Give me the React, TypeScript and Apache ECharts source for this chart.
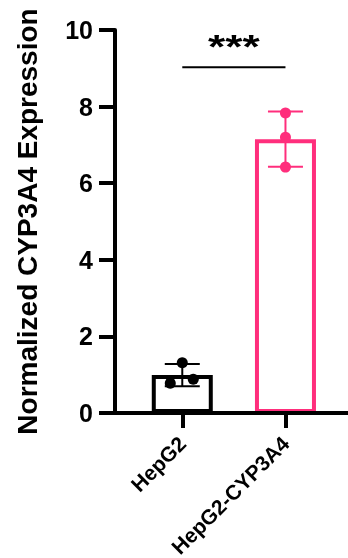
import React, { useEffect, useRef } from "react";
import * as echarts from "echarts";

// ---- data ----
const categories = ["HepG2", "HepG2-CYP3A4"];
const means = [0.99, 7.15];
const sds = [0.29, 0.72];
const hepg2Points = [1.31, 0.78, 0.88];
const cyp3a4Points = [7.83, 7.2, 6.42];
const sigLevel = 9.03;
const sigLabel = "***";
const yMin = 0;
const yMax = 10;
const yInterval = 2;

// ---- styles / layout ----
const FONT = '"Liberation Sans", Arial, sans-serif';
const colors = ["#000000", "#FF2E7C"];
const dotOffsetsPx = [
  [0, -12, 11],
  [0, 0, 0],
];

export default function App() {
  const ref = useRef<HTMLDivElement>(null);
  useEffect(() => {
    const chart = echarts.init(ref.current!, null, { renderer: "svg" });
    const pointSets = [hepg2Points, cyp3a4Points];
    const dotData: number[][] = [];
    pointSets.forEach((pts, ci) => pts.forEach((v, k) => dotData.push([ci, v, k])));
    const catIdx = categories.map((_, i) => i);

    const option: any = {
      animation: false,
      grid: { left: 115, right: 0, top: 30, bottom: 145, containLabel: false, outerBoundsMode: "none" },
      xAxis: {
        type: "value",
        min: -0.652,
        max: 1.606,
        z: 10,
        axisLine: { show: true, onZero: false, lineStyle: { color: "#000", width: 4 } },
        axisTick: { show: true, customValues: catIdx, length: 15, lineStyle: { color: "#000", width: 4 } },
        axisLabel: {
          customValues: catIdx,
          formatter: (v: number) => categories[Math.round(v)] ?? "",
          rotate: 45,
          margin: 27,
          fontSize: 21,
          fontWeight: "bold",
          fontFamily: FONT,
          color: "#000",
        },
        splitLine: { show: false },
      },
      yAxis: {
        type: "value",
        min: yMin,
        max: yMax,
        interval: yInterval,
        name: "Normalized CYP3A4 Expression",
        nameLocation: "middle",
        nameGap: 74,
        nameMoveOverlap: false,
        nameTextStyle: { fontSize: 28, fontWeight: "bold", fontFamily: FONT, color: "#000" },
        axisLine: { show: true, onZero: false, lineStyle: { color: "#000", width: 4 } },
        axisTick: { show: true, length: 16, lineStyle: { color: "#000", width: 4 } },
        axisLabel: { margin: 22, fontSize: 25, fontWeight: "bold", fontFamily: FONT, color: "#000" },
        splitLine: { show: false },
      },
      series: [
        {
          type: "bar",
          barWidth: 61,
          data: categories.map((_, i) => ({
            value: [i, means[i]],
            itemStyle: { color: "#fff", borderColor: colors[i], borderWidth: 4 },
          })),
          z: 2,
        },
        {
          type: "custom",
          z: 3,
          data: categories.map((_, i) => [i, means[i], sds[i]]),
          encode: { x: 0, y: 1 },
          renderItem: (_p: any, api: any) => {
            const ci = api.value(0);
            const m = api.value(1);
            const s = api.value(2);
            const top = api.coord([ci, m + s]);
            const bot = api.coord([ci, m - s]);
            const hw = 17.5;
            const st = { stroke: colors[ci], lineWidth: 2 };
            return {
              type: "group",
              children: [
                { type: "line", shape: { x1: top[0], y1: top[1], x2: bot[0], y2: bot[1] }, style: st },
                { type: "line", shape: { x1: top[0] - hw, y1: top[1], x2: top[0] + hw, y2: top[1] }, style: st },
                { type: "line", shape: { x1: bot[0] - hw, y1: bot[1], x2: bot[0] + hw, y2: bot[1] }, style: st },
              ],
            };
          },
        },
        {
          type: "custom",
          z: 4,
          data: dotData,
          encode: { x: 0, y: 1 },
          renderItem: (_p: any, api: any) => {
            const ci = api.value(0);
            const v = api.value(1);
            const k = api.value(2);
            const p = api.coord([ci, v]);
            return {
              type: "circle",
              shape: { cx: p[0] + dotOffsetsPx[ci][k], cy: p[1], r: 5.5 },
              style: { fill: colors[ci] },
            };
          },
        },
        {
          type: "custom",
          z: 4,
          data: [[0, 1, sigLevel]],
          encode: { x: [0, 1], y: 2 },
          renderItem: (_p: any, api: any) => {
            const y = api.value(2);
            const p0 = api.coord([api.value(0), y]);
            const p1 = api.coord([api.value(1), y]);
            return {
              type: "group",
              children: [
                { type: "line", shape: { x1: p0[0], y1: p0[1], x2: p1[0], y2: p1[1] }, style: { stroke: "#000", lineWidth: 2 } },
                {
                  type: "text",
                  x: (p0[0] + p1[0]) / 2,
                  y: p0[1] - 4,
                  scaleX: 1.3,
                  style: {
                    text: sigLabel,
                    fill: "#000",
                    fontSize: 34,
                    fontWeight: "bold",
                    fontFamily: FONT,
                    align: "center",
                    verticalAlign: "bottom",
                  },
                },
              ],
            };
          },
        },
      ],
    };
    chart.setOption(option);
    return () => chart.dispose();
  }, []);
  return <div ref={ref} style={{ position: "fixed", left: 0, top: 0, width: 348, height: 558 }} />;
}
